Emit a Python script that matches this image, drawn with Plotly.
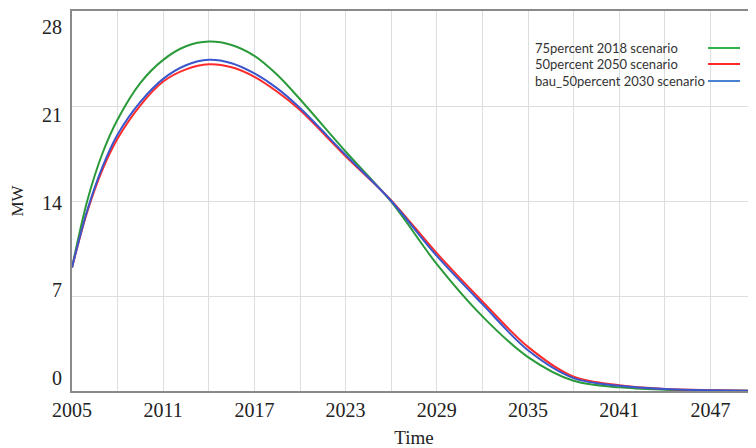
import plotly.graph_objects as go

years = [2005, 2006, 2007, 2008, 2009.5, 2011, 2012.5, 2014, 2015.5, 2017, 2018.5,
         2020, 2023, 2026, 2029, 2032, 2035, 2038, 2041, 2044, 2047, 2050]
green_75_2018 = [9.1, 14.0, 17.5, 20.0, 22.7, 24.4, 25.4, 25.75, 25.5, 24.7, 23.3,
                 21.5, 17.65, 13.95, 9.35, 5.5, 2.5, 0.75, 0.27, 0.1, 0.04, 0.02]
red_50_2050 = [9.1, 13.2, 16.3, 18.6, 21.05, 22.8, 23.7, 24.07, 23.85, 23.15, 22.05,
               20.7, 17.3, 14.05, 10.15, 6.6, 3.25, 1.05, 0.42, 0.15, 0.06, 0.02]
blue_bau_2030 = [9.1, 13.3, 16.5, 18.9, 21.3, 23.0, 24.0, 24.4, 24.15, 23.4, 22.3,
                 20.85, 17.4, 14.0, 9.95, 6.4, 3.0, 0.95, 0.38, 0.14, 0.05, 0.02]

series_names = ["75percent 2018 scenario", "50percent 2050 scenario", "bau_50percent 2030 scenario"]
series_values = [green_75_2018, red_50_2050, blue_bau_2030]
colors = ["#2a9a3a", "#ff2b2b", "#3a56cc"]
legend_colors = ["#2fb34a", "#ff2b2b", "#4a80d0"]

x_ticks = list(range(2005, 2050, 6))
y_ticks = [0, 7, 14, 21, 28]
y_max = 28

fig = go.Figure()
for name, vals, c in zip(series_names, series_values, colors):
    fig.add_trace(go.Scatter(x=years, y=vals, mode="lines", name=name,
                             line=dict(color=c, width=2, shape="spline", smoothing=0.9),
                             showlegend=False))

# legend drawn manually (text left, line sample right)
ys = [0.9026, 0.8605, 0.8158]
for name, c, yy in zip(series_names, legend_colors, ys):
    fig.add_annotation(x=0.674, y=yy, xref="paper", yref="paper", text=name,
                       showarrow=False, xanchor="left", yanchor="middle",
                       font=dict(family="Lato", size=13, color="#333"))
    fig.add_shape(type="line", xref="paper", yref="paper", x0=0.9298, x1=0.9766,
                  y0=yy, y1=yy, line=dict(color=c, width=2))

serif = "Liberation Serif"

# y tick labels as text, drawn slightly inward like the original (bottom up, top down)
for v in y_ticks:
    fig.add_annotation(x=0, y=v, xref="paper", yref="y", text=str(v),
                       showarrow=False, xanchor="right", yanchor="middle",
                       xshift=-8, yshift=13 - 29 * v / y_max,
                       font=dict(family=serif, size=20, color="#222"))

fig.update_layout(
    width=748, height=440,
    margin=dict(l=64, r=0, t=3, b=57),
    paper_bgcolor="white", plot_bgcolor="white",
    font=dict(family=serif, color="#222"),
)
fig.update_xaxes(
    range=[2005, 2050], tickvals=x_ticks, ticktext=[str(v) for v in x_ticks],
    showgrid=True, gridcolor="#dedede", gridwidth=1,
    minor=dict(dtick=3, tick0=2005, showgrid=True, gridcolor="#dedede", gridwidth=1),
    showline=True, linecolor="#8a8a8a", linewidth=2, mirror=True,
    ticks="", tickfont=dict(family=serif, size=20, color="#222"),
    title=dict(text="Time", font=dict(family=serif, size=19, color="#222"), standoff=12),
    zeroline=False,
)
fig.update_yaxes(
    range=[0, y_max], tickvals=y_ticks, showticklabels=False,
    showgrid=True, gridcolor="#dedede", gridwidth=1,
    showline=True, linecolor="#8a8a8a", linewidth=2,
    ticks="",
    title=dict(text="MW", font=dict(family=serif, size=17, color="#222"), standoff=44),
    zeroline=False,
)
fig.write_html("out.html")
